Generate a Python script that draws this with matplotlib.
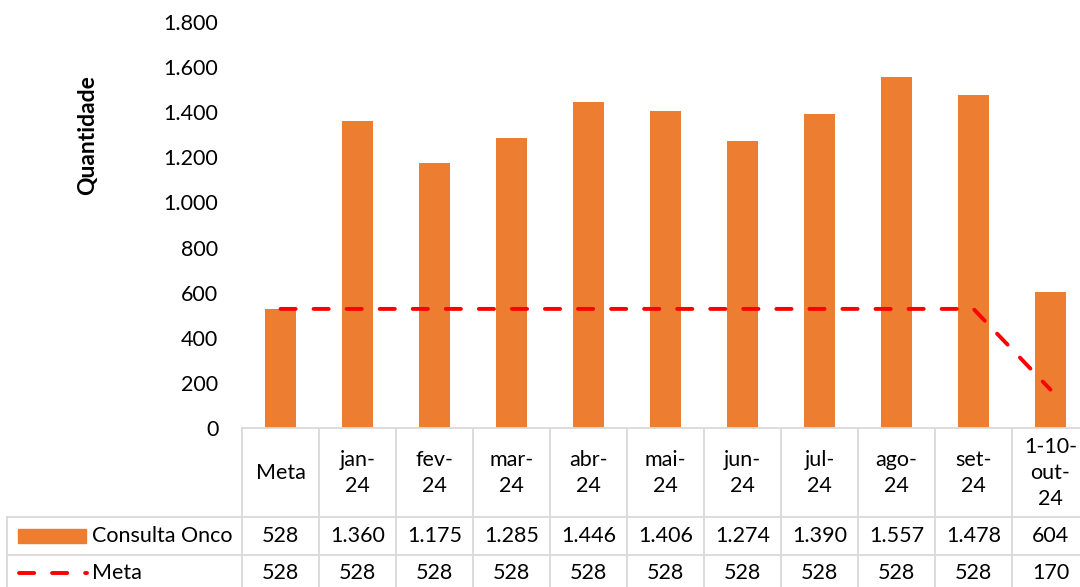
import matplotlib.pyplot as plt
from matplotlib.ticker import FuncFormatter
from matplotlib.patches import Rectangle
from matplotlib.lines import Line2D

plt.rcParams['font.family'] = ['Lato', 'DejaVu Sans']

categorias = ["Meta", "jan-\n24", "fev-\n24", "mar-\n24", "abr-\n24", "mai-\n24",
              "jun-\n24", "jul-\n24", "ago-\n24", "set-\n24", "1-10-\nout-\n24"]
consulta_onco = [528, 1360, 1175, 1285, 1446, 1406, 1274, 1390, 1557, 1478, 604]
meta = [528, 528, 528, 528, 528, 528, 528, 528, 528, 528, 170]
series_nomes = ["Consulta Onco", "Meta"]

laranja = "#ED7D31"
vermelho = "#FF0000"
cinza = "#D9D9D9"
fs = 15.5

W, H = 1080, 587
fig = plt.figure(figsize=(W / 100, H / 100), dpi=100)

# layout em pixels
x0, col = 242, 77
y_zero, y_top = 428, 22
n = len(categorias)

ax = fig.add_axes([x0 / W, 1 - y_zero / H, n * col / W, (y_zero - y_top) / H])
x = list(range(n))
ax.bar(x, consulta_onco, width=0.4, color=laranja, zorder=2)
ax.plot(x, meta, color=vermelho, lw=2.8, dashes=(3.9, 4.6), dash_capstyle='round',
        solid_capstyle='round', zorder=3)
ax.set_xlim(-0.5, n - 0.5)
ax.set_ylim(0, 1800)
ax.set_yticks(range(0, 1801, 200))
ax.yaxis.set_major_formatter(FuncFormatter(lambda v, p: f"{int(v):,}".replace(",", ".")))
ax.tick_params(axis='y', length=0, pad=17, labelsize=fs)
ax.set_xticks([])
for s in ax.spines.values():
    s.set_visible(False)
fig.text(88 / W, 1 - 135 / H, "Quantidade", rotation=90, ha='center', va='center',
         fontsize=16.5, fontweight='bold')

# tabela de dados
tb = fig.add_axes([0, 0, 1, (H - y_zero) / H])
tb.set_xlim(-0.5 - x0 / col, -0.5 + (W - x0) / col)
tb.set_ylim(H, y_zero)
tb.axis('off')

r1, r2, r3 = 517, 555, 600
leg_x = -0.5 - (x0 - 7) / col
kw = dict(color=cinza, lw=1.3, clip_on=False)
# linhas horizontais
tb.plot([-0.5, n - 0.5], [y_zero, y_zero], **kw)
tb.plot([leg_x, n - 0.5], [r1, r1], **kw)
tb.plot([leg_x, n - 0.5], [r2, r2], **kw)
# linhas verticais
tb.plot([leg_x, leg_x], [r1, r3], **kw)
for i in range(n + 1):
    tb.plot([i - 0.5, i - 0.5], [y_zero, r3], **kw)

for i, c in enumerate(categorias):
    tb.text(i, 473, c, ha='center', va='center', fontsize=fs, linespacing=1.35)
    tb.text(i, (r1 + r2) / 2, f"{consulta_onco[i]:,}".replace(",", "."),
            ha='center', va='center', fontsize=fs)
    tb.text(i, 573, f"{meta[i]:,}".replace(",", "."), ha='center', va='center', fontsize=fs)

# legenda da tabela
px = 1 / col
tb.add_patch(Rectangle((leg_x + 11 * px, 529), 68 * px, 14, color=laranja))
tb.add_line(Line2D([leg_x + 12 * px, leg_x + 80 * px], [573, 573], color=vermelho, lw=2.8,
                   dashes=(3.9, 4.6), dash_capstyle='round'))
tb.text(leg_x + 85 * px, (r1 + r2) / 2, series_nomes[0], ha='left', va='center', fontsize=fs)
tb.text(leg_x + 85 * px, 573, series_nomes[1], ha='left', va='center', fontsize=fs)

fig.savefig("out.png", dpi=100)
